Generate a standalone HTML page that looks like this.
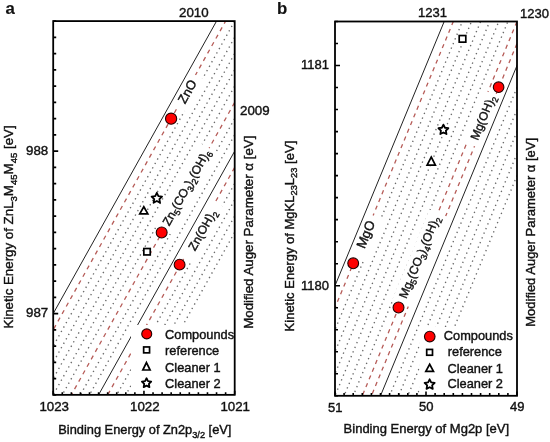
<!DOCTYPE html><html><head><meta charset="utf-8"><style>html,body{margin:0;padding:0;background:#fff;width:550px;height:442px;overflow:hidden}svg{display:block;will-change:transform}text{font-family:"Liberation Sans",sans-serif;fill:#111;stroke:#111;stroke-width:0.4px}</style></head><body>
<svg width="550" height="442" viewBox="0 0 550 442">
<rect width="550" height="442" fill="#fff"/>
<defs><clipPath id="ca"><rect x="53.2" y="21.1" width="181.5" height="373.75"/></clipPath><clipPath id="cb"><rect x="335" y="21.5" width="182" height="374.3"/></clipPath></defs>
<g clip-path="url(#ca)">
<line x1="-37.55" y1="508.60" x2="325.45" y2="-141.40" stroke="#6a6a6a" stroke-width="1.35" stroke-dasharray="1.35 3.7125" stroke-dashoffset="0.225"/>
<line x1="-37.55" y1="524.85" x2="325.45" y2="-125.15" stroke="#6a6a6a" stroke-width="1.35" stroke-dasharray="1.35 3.7125" stroke-dashoffset="0.225"/>
<line x1="-37.55" y1="541.10" x2="325.45" y2="-108.90" stroke="#6a6a6a" stroke-width="1.35" stroke-dasharray="1.35 3.7125" stroke-dashoffset="0.225"/>
<line x1="-37.55" y1="557.35" x2="325.45" y2="-92.65" stroke="#6a6a6a" stroke-width="1.35" stroke-dasharray="1.35 3.7125" stroke-dashoffset="0.225"/>
<line x1="-37.55" y1="573.60" x2="325.45" y2="-76.40" stroke="#6a6a6a" stroke-width="1.35" stroke-dasharray="1.35 3.7125" stroke-dashoffset="0.225"/>
<line x1="-37.55" y1="606.10" x2="325.45" y2="-43.90" stroke="#6a6a6a" stroke-width="1.35" stroke-dasharray="1.35 3.7125" stroke-dashoffset="0.225"/>
<line x1="-37.55" y1="622.35" x2="325.45" y2="-27.65" stroke="#6a6a6a" stroke-width="1.35" stroke-dasharray="1.35 3.7125" stroke-dashoffset="0.225"/>
<line x1="-37.55" y1="671.10" x2="325.45" y2="21.10" stroke="#6a6a6a" stroke-width="1.35" stroke-dasharray="1.35 3.7125" stroke-dashoffset="0.225"/>
<line x1="-37.55" y1="687.35" x2="325.45" y2="37.35" stroke="#6a6a6a" stroke-width="1.35" stroke-dasharray="1.35 3.7125" stroke-dashoffset="0.225"/>
<line x1="-37.55" y1="703.60" x2="325.45" y2="53.60" stroke="#6a6a6a" stroke-width="1.35" stroke-dasharray="1.35 3.7125" stroke-dashoffset="0.225"/>
<line x1="-37.55" y1="719.85" x2="325.45" y2="69.85" stroke="#6a6a6a" stroke-width="1.35" stroke-dasharray="1.35 3.7125" stroke-dashoffset="0.225"/>
<line x1="-37.55" y1="492.35" x2="325.45" y2="-157.65" stroke="#b65c58" stroke-width="1.3" stroke-dasharray="4.25 4.275" stroke-dashoffset="0.25"/>
<line x1="-37.55" y1="589.85" x2="325.45" y2="-60.15" stroke="#b65c58" stroke-width="1.3" stroke-dasharray="4.25 4.275" stroke-dashoffset="0.25"/>
<line x1="-37.55" y1="654.85" x2="325.45" y2="4.85" stroke="#b65c58" stroke-width="1.3" stroke-dasharray="4.25 4.275" stroke-dashoffset="0.25"/>
<rect x="-6.00" y="-13.58" width="36.90" height="18.27" fill="#fff" transform="translate(185.09,104.51) rotate(-60.818)"/><rect x="-6.00" y="-12.86" width="94.00" height="19.38" fill="#fff" transform="translate(169.19,226.62) rotate(-60.818)"/><rect x="-12.00" y="-12.86" width="65.00" height="19.38" fill="#fff" transform="translate(195.06,251.51) rotate(-60.818)"/>
<line x1="-37.55" y1="476.10" x2="325.45" y2="-173.90" stroke="#222" stroke-width="1.0"/>
<line x1="-37.55" y1="638.60" x2="325.45" y2="-11.40" stroke="#222" stroke-width="1.0"/>
<rect x="131" y="325" width="103.5" height="69.5" fill="#fff"/>
</g>
<g clip-path="url(#cb)">
<line x1="244.00" y1="549.92" x2="608.00" y2="-330.78" stroke="#6a6a6a" stroke-width="1.35" stroke-dasharray="1.35 3.692" stroke-dashoffset="2.357"/>
<line x1="244.00" y1="571.94" x2="608.00" y2="-308.76" stroke="#6a6a6a" stroke-width="1.35" stroke-dasharray="1.35 3.692" stroke-dashoffset="2.357"/>
<line x1="244.00" y1="593.96" x2="608.00" y2="-286.75" stroke="#6a6a6a" stroke-width="1.35" stroke-dasharray="1.35 3.692" stroke-dashoffset="2.357"/>
<line x1="244.00" y1="615.98" x2="608.00" y2="-264.73" stroke="#6a6a6a" stroke-width="1.35" stroke-dasharray="1.35 3.692" stroke-dashoffset="2.357"/>
<line x1="244.00" y1="637.99" x2="608.00" y2="-242.71" stroke="#6a6a6a" stroke-width="1.35" stroke-dasharray="1.35 3.692" stroke-dashoffset="2.357"/>
<line x1="244.00" y1="660.01" x2="608.00" y2="-220.69" stroke="#6a6a6a" stroke-width="1.35" stroke-dasharray="1.35 3.692" stroke-dashoffset="2.357"/>
<line x1="244.00" y1="748.08" x2="608.00" y2="-132.62" stroke="#6a6a6a" stroke-width="1.35" stroke-dasharray="1.35 3.692" stroke-dashoffset="2.357"/>
<line x1="244.00" y1="770.10" x2="608.00" y2="-110.61" stroke="#6a6a6a" stroke-width="1.35" stroke-dasharray="1.35 3.692" stroke-dashoffset="2.357"/>
<line x1="244.00" y1="792.12" x2="608.00" y2="-88.59" stroke="#6a6a6a" stroke-width="1.35" stroke-dasharray="1.35 3.692" stroke-dashoffset="2.357"/>
<line x1="244.00" y1="814.14" x2="608.00" y2="-66.57" stroke="#6a6a6a" stroke-width="1.35" stroke-dasharray="1.35 3.692" stroke-dashoffset="2.357"/>
<line x1="244.00" y1="836.15" x2="608.00" y2="-44.55" stroke="#6a6a6a" stroke-width="1.35" stroke-dasharray="1.35 3.692" stroke-dashoffset="2.357"/>
<line x1="244.00" y1="527.91" x2="608.00" y2="-352.80" stroke="#b65c58" stroke-width="1.3" stroke-dasharray="4.15 4.17" stroke-dashoffset="5.0"/>
<line x1="244.00" y1="682.03" x2="608.00" y2="-198.68" stroke="#b65c58" stroke-width="1.3" stroke-dasharray="4.15 4.17" stroke-dashoffset="5.25"/>
<line x1="244.00" y1="704.05" x2="608.00" y2="-176.66" stroke="#b65c58" stroke-width="1.3" stroke-dasharray="4.15 4.17" stroke-dashoffset="5.25"/>
<rect x="-12.00" y="-13.95" width="46.60" height="21.72" fill="#fff" transform="translate(364.39,249.29) rotate(-67.544)"/><rect x="-6.00" y="-12.86" width="98.00" height="19.38" fill="#fff" transform="translate(406.23,299.32) rotate(-67.544)"/><rect x="-6.00" y="-12.86" width="55.50" height="19.38" fill="#fff" transform="translate(477.64,141.08) rotate(-67.544)"/>
<line x1="244.00" y1="505.89" x2="608.00" y2="-374.82" stroke="#222" stroke-width="1.0"/>
<line x1="244.00" y1="726.06" x2="608.00" y2="-154.64" stroke="#222" stroke-width="1.0"/>
<rect x="419.5" y="327" width="97.5" height="68.80000000000001" fill="#fff"/>
</g>
<rect x="143.83" y="248.53" width="6.4" height="6.4" fill="#fff" stroke="#000" stroke-width="1.7"/>
<polygon points="143.80,206.71 147.85,213.81 139.75,213.81" fill="#fff" stroke="#000" stroke-width="1.7" stroke-linejoin="miter"/>
<polygon points="156.82,192.80 158.41,196.12 162.05,196.60 159.39,199.13 160.05,202.75 156.82,201.00 153.59,202.75 154.25,199.13 151.59,196.60 155.23,196.12" fill="#fff" stroke="#000" stroke-width="1.8" stroke-linejoin="round"/>
<circle cx="171.1" cy="118.69" r="5.6" fill="#ff0000" stroke="#220000" stroke-width="1.1"/>
<circle cx="161.67" cy="232.5" r="5.45" fill="#ff0000" stroke="#220000" stroke-width="1.1"/>
<circle cx="179.6" cy="264.64" r="5.4" fill="#ff0000" stroke="#220000" stroke-width="1.1"/>
<text x="0" y="0" font-size="12.8" transform="translate(185.09,104.51) rotate(-60.818)">ZnO</text>
<text x="0" y="0" font-size="12" transform="translate(169.19,226.62) rotate(-60.818)">Zn<tspan font-size="8.64" dy="3.24">5</tspan><tspan dy="-3.24">(CO</tspan><tspan font-size="8.64" dy="3.24">3</tspan><tspan dy="-3.24">)</tspan><tspan font-size="8.64" dy="3.24">2</tspan><tspan dy="-3.24">(OH)</tspan><tspan font-size="8.64" dy="3.24">6</tspan><tspan dy="-3.24"></tspan></text>
<text x="0" y="0" font-size="12" transform="translate(195.06,251.51) rotate(-60.818)">Zn(OH)<tspan font-size="8.64" dy="3.24">2</tspan><tspan dy="-3.24"></tspan></text>
<rect x="459.20" y="35.55" width="6.6" height="6.6" fill="#fff" stroke="#000" stroke-width="1.7"/>
<polygon points="431.23,156.99 435.38,165.09 427.08,165.09" fill="#fff" stroke="#000" stroke-width="1.7" stroke-linejoin="miter"/>
<polygon points="443.41,124.64 444.94,127.74 448.36,128.23 445.88,130.64 446.47,134.05 443.41,132.44 440.35,134.05 440.94,130.64 438.46,128.23 441.88,127.74" fill="#fff" stroke="#000" stroke-width="1.8" stroke-linejoin="round"/>
<circle cx="353.2" cy="263.28" r="5.4" fill="#ff0000" stroke="#220000" stroke-width="1.1"/>
<circle cx="398.52" cy="307.5" r="5.45" fill="#ff0000" stroke="#220000" stroke-width="1.1"/>
<circle cx="498.61" cy="87.2" r="5.3" fill="#ff0000" stroke="#220000" stroke-width="1.1"/>
<text x="0" y="0" font-size="13.2" transform="translate(364.39,249.29) rotate(-67.544)">MgO</text>
<text x="0" y="0" font-size="12" transform="translate(406.23,299.32) rotate(-67.544)">Mg<tspan font-size="8.64" dy="3.24">5</tspan><tspan dy="-3.24">(CO</tspan><tspan font-size="8.64" dy="3.24">3</tspan><tspan dy="-3.24">)</tspan><tspan font-size="8.64" dy="3.24">4</tspan><tspan dy="-3.24">(OH)</tspan><tspan font-size="8.64" dy="3.24">2</tspan><tspan dy="-3.24"></tspan></text>
<text x="0" y="0" font-size="12" transform="translate(477.64,141.08) rotate(-67.544)">Mg(OH)<tspan font-size="8.64" dy="3.24">2</tspan><tspan dy="-3.24"></tspan></text>
<circle cx="146.73" cy="333.9" r="5.0" fill="#ff0000" stroke="#220000" stroke-width="1.1"/>
<rect x="143.65" y="346.95" width="5.9" height="5.9" fill="#fff" stroke="#000" stroke-width="1.7"/>
<polygon points="146.47,362.52 150.12,370.02 142.82,370.02" fill="#fff" stroke="#000" stroke-width="1.7" stroke-linejoin="miter"/>
<polygon points="146.55,378.25 147.99,381.17 151.21,381.64 148.88,383.91 149.43,387.11 146.55,385.60 143.67,387.11 144.22,383.91 141.89,381.64 145.11,381.17" fill="#fff" stroke="#000" stroke-width="1.8" stroke-linejoin="round"/>
<circle cx="429.75" cy="336.56" r="5.3" fill="#ff0000" stroke="#220000" stroke-width="1.1"/>
<rect x="426.70" y="349.43" width="5.8" height="5.8" fill="#fff" stroke="#000" stroke-width="1.7"/>
<polygon points="429.65,364.26 433.50,371.46 425.80,371.46" fill="#fff" stroke="#000" stroke-width="1.7" stroke-linejoin="miter"/>
<polygon points="429.64,379.28 431.17,382.48 434.68,382.94 432.11,385.38 432.76,388.87 429.64,387.18 426.52,388.87 427.17,385.38 424.60,382.94 428.11,382.48" fill="#fff" stroke="#000" stroke-width="1.8" stroke-linejoin="round"/>
<rect x="53.2" y="21.1" width="181.50" height="373.75" fill="none" stroke="#000" stroke-width="1.8"/>
<rect x="335" y="21.5" width="182.00" height="374.30" fill="none" stroke="#000" stroke-width="1.8"/>
<path d="M53.20 394.85V390.65M62.28 394.85V392.15M71.35 394.85V392.15M80.42 394.85V392.15M89.50 394.85V392.15M98.58 394.85V392.15M107.65 394.85V392.15M116.73 394.85V392.15M125.80 394.85V392.15M134.87 394.85V392.15M143.95 394.85V390.65M153.03 394.85V392.15M162.10 394.85V392.15M171.17 394.85V392.15M180.25 394.85V392.15M189.32 394.85V392.15M198.40 394.85V392.15M207.48 394.85V392.15M216.55 394.85V392.15M225.62 394.85V392.15M234.70 394.85V390.65M53.20 394.85H56.20M53.20 378.60H56.20M53.20 362.35H56.20M53.20 346.10H56.20M53.20 329.85H56.20M53.20 313.60H58.20M53.20 297.35H56.20M53.20 281.10H56.20M53.20 264.85H56.20M53.20 248.60H56.20M53.20 232.35H56.20M53.20 216.10H56.20M53.20 199.85H56.20M53.20 183.60H56.20M53.20 167.35H56.20M53.20 151.10H58.20M53.20 134.85H56.20M53.20 118.60H56.20M53.20 102.35H56.20M53.20 86.10H56.20M53.20 69.85H56.20M53.20 53.60H56.20M53.20 37.35H56.20M53.20 21.10H56.20" stroke="#000" stroke-width="1.6" fill="none"/>
<path d="M335.00 395.80V391.60M344.10 395.80V393.10M353.20 395.80V393.10M362.30 395.80V393.10M371.40 395.80V393.10M380.50 395.80V393.10M389.60 395.80V393.10M398.70 395.80V393.10M407.80 395.80V393.10M416.90 395.80V393.10M426.00 395.80V391.60M435.10 395.80V393.10M444.20 395.80V393.10M453.30 395.80V393.10M462.40 395.80V393.10M471.50 395.80V393.10M480.60 395.80V393.10M489.70 395.80V393.10M498.80 395.80V393.10M507.90 395.80V393.10M517.00 395.80V391.60M335.00 395.80H338.00M335.00 373.78H338.00M335.00 351.76H338.00M335.00 329.75H338.00M335.00 307.73H338.00M335.00 285.71H340.00M335.00 263.69H338.00M335.00 241.68H338.00M335.00 219.66H338.00M335.00 197.64H338.00M335.00 175.62H338.00M335.00 153.61H338.00M335.00 131.59H338.00M335.00 109.57H338.00M335.00 87.55H338.00M335.00 65.54H340.00M335.00 43.52H338.00M335.00 21.50H338.00" stroke="#000" stroke-width="1.6" fill="none"/>
<text x="5.6" y="14.2" font-size="16.8" font-weight="bold" style="stroke-width:0.15px" text-anchor="start">a</text>
<text x="277.0" y="14.3" font-size="16.8" font-weight="bold" style="stroke-width:0.15px" text-anchor="start">b</text>
<text x="179" y="17.3" font-size="13.3" text-anchor="start">2010</text>
<text x="240" y="115.3" font-size="13.3" text-anchor="start">2009</text>
<text x="26" y="155.2" font-size="13.3" text-anchor="start">988</text>
<text x="26" y="317.4" font-size="13.3" text-anchor="start">987</text>
<text x="39.4" y="411.1" font-size="13.3" text-anchor="start">1023</text>
<text x="130.0" y="411.1" font-size="13.3" text-anchor="start">1022</text>
<text x="220.4" y="411.1" font-size="13.3" text-anchor="start">1021</text>
<text x="58.3" y="434.4" font-size="12.82" text-anchor="start">Binding Energy of Zn2p<tspan font-size="9.23" dy="3.46">3/2</tspan><tspan dy="-3.46"> [eV]</tspan></text>
<text x="0" y="0" font-size="13.3" text-anchor="start" transform="translate(13.3,328.6) rotate(-90)">Kinetic Energy of ZnL<tspan font-size="9.58" dy="3.59">3</tspan><tspan dy="-3.59">M</tspan><tspan font-size="9.58" dy="3.59">45</tspan><tspan dy="-3.59">M</tspan><tspan font-size="9.58" dy="3.59">45</tspan><tspan dy="-3.59"> [eV]</tspan></text>
<text x="0" y="0" font-size="13.3" text-anchor="start" transform="translate(253.4,328.8) rotate(-90)">Modified Auger Parameter &#945; [eV]</text>
<text x="165.1" y="338.5" font-size="12.8" text-anchor="start">Compounds</text>
<text x="165.1" y="354.5" font-size="12.8" text-anchor="start">reference</text>
<text x="165.1" y="371.6" font-size="12.8" text-anchor="start">Cleaner 1</text>
<text x="165.1" y="388.4" font-size="12.8" text-anchor="start">Cleaner 2</text>
<text x="418" y="16.8" font-size="13" text-anchor="start">1231</text>
<text x="520" y="17.5" font-size="13" text-anchor="start">1230</text>
<text x="301" y="69.0" font-size="13" text-anchor="start">1181</text>
<text x="301" y="290.0" font-size="13" text-anchor="start">1180</text>
<text x="328" y="412.2" font-size="13" text-anchor="start">51</text>
<text x="419" y="411.4" font-size="13" text-anchor="start">50</text>
<text x="510.1" y="411.4" font-size="13" text-anchor="start">49</text>
<text x="343.6" y="432.9" font-size="13" text-anchor="start">Binding Energy of Mg2p [eV]</text>
<text x="0" y="0" font-size="13" text-anchor="start" transform="translate(293.7,331.4) rotate(-90)">Kinetic Energy of MgKL<tspan font-size="9.36" dy="3.51">23</tspan><tspan dy="-3.51">L</tspan><tspan font-size="9.36" dy="3.51">23</tspan><tspan dy="-3.51"> [eV]</tspan></text>
<text x="0" y="0" font-size="13" text-anchor="start" transform="translate(534.5,326.8) rotate(-90)">Modified Auger Parameter &#945; [eV]</text>
<text x="443.8" y="340.3" font-size="12.8" text-anchor="start">Compounds</text>
<text x="447.8" y="355.9" font-size="12.8" text-anchor="start">reference</text>
<text x="447.5" y="372.5" font-size="12.8" text-anchor="start">Cleaner 1</text>
<text x="447.5" y="388.0" font-size="12.8" text-anchor="start">Cleaner 2</text>
</svg></body></html>
